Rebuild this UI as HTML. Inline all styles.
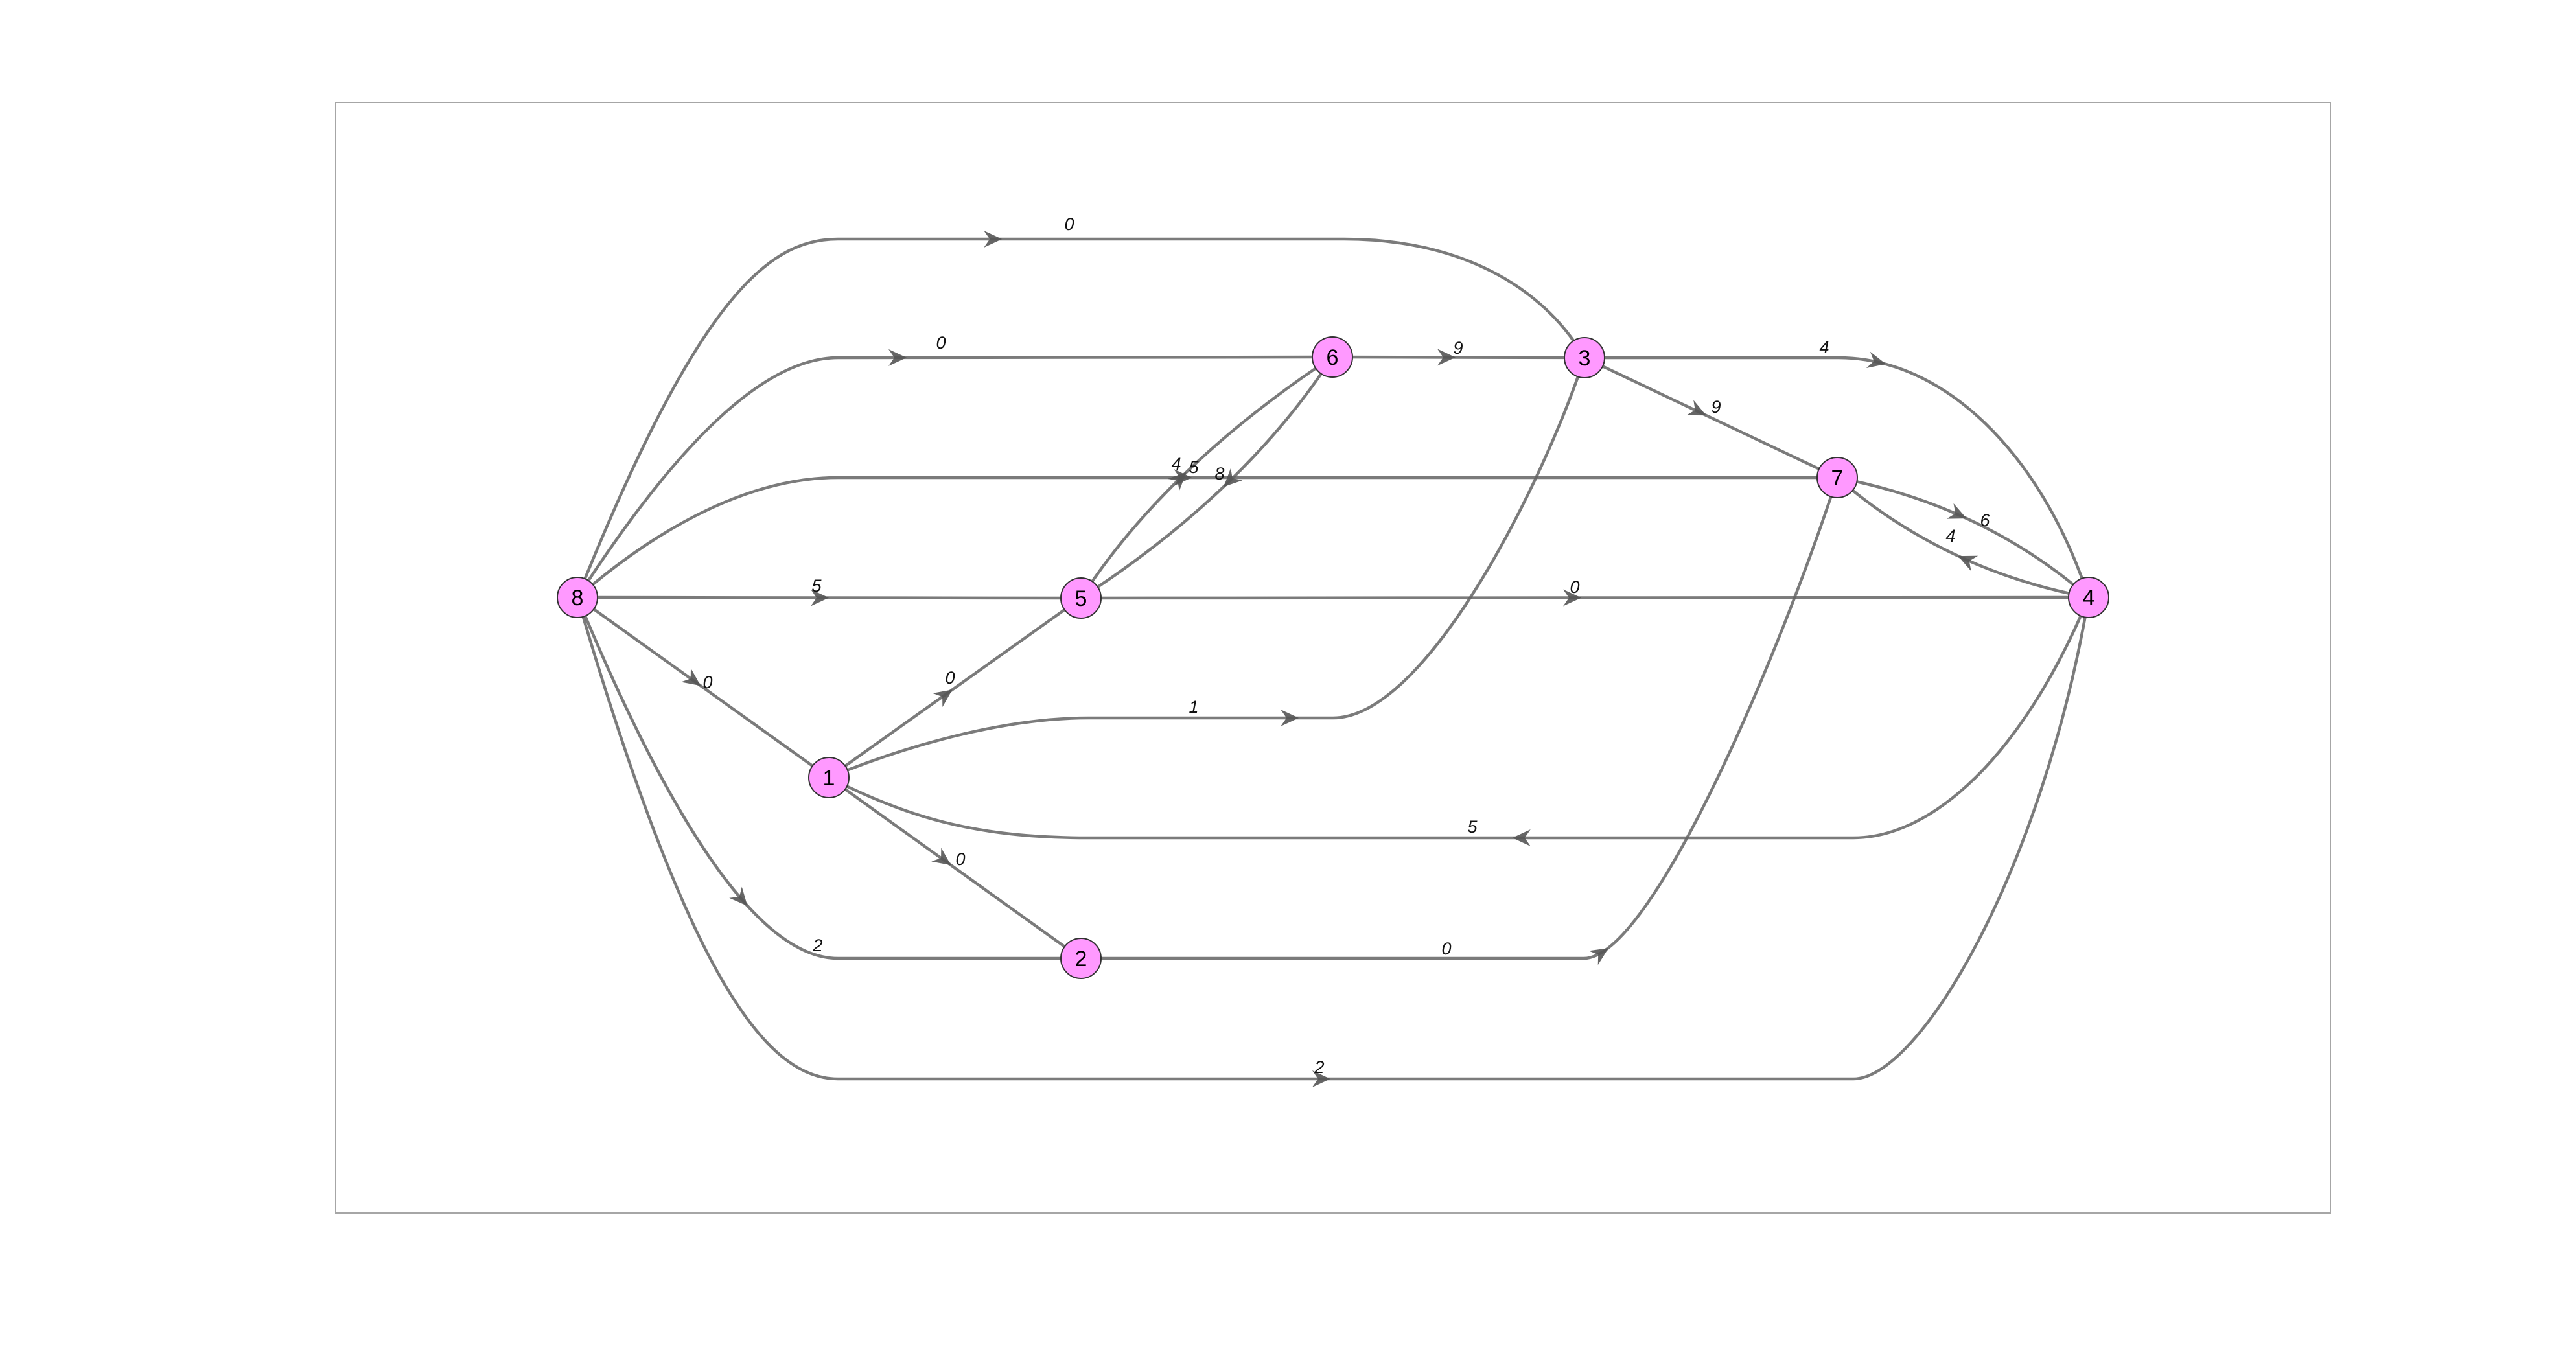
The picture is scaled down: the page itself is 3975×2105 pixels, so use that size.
<!DOCTYPE html>
<html><head><meta charset="utf-8"><style>
html,body{margin:0;padding:0;background:#fff;}
svg{display:block;}
</style></head><body>
<svg id="chart" width="3975" height="2105" viewBox="0 0 3975 2105" xmlns="http://www.w3.org/2000/svg">
<rect x="518" y="158" width="3078" height="1714" fill="#fff" stroke="#a6a6a6" stroke-width="2"/>
<g id="edges"></g><g id="arrows"></g><g id="elabels"></g><g id="nodes"></g>
</svg>
<script>
// graph data
const nodeNames = ['1','2','3','4','5','6','7','8'];
const edgeFrom = ['8','8','8','8','8','8','8','1','1','4','1','2','5','6','5','6','3','3','7','4'];
const edgeTo   = ['3','6','7','5','1','2','4','5','3','1','2','7','6','5','4','3','4','7','4','7'];
const edgeWeight = ['0','0','4','5','0','2','2','0','1','5','0','0','5','8','0','9','4','9','6','4'];

// layout (positions)
const P = {'8':[891,922],'1':[1279,1200],'5':[1668,923],'2':[1668,1479],'6':[2056,551],'3':[2445,552],'7':[2835,737],'4':[3223,922]};
function p(n){return P[n][0]+','+P[n][1];}
const routes = {
 '8-3':()=>`M${p('8')} C1080,450 1190,369 1293,369 L2074,369 C2250,369 2380,440 ${p('3')}`,
 '8-6':()=>`M${p('8')} C1060,660 1190,552 1293,552 L${p('6')}`,
 '8-7':()=>`M${p('8')} C1020,810 1160,737 1293,737 L${p('7')}`,
 '8-5':()=>`M${p('8')} L${p('5')}`,
 '8-1':()=>`M${p('8')} L${p('1')}`,
 '8-2':()=>`M${p('8')} C1060,1330 1190,1479 1293,1479 L${p('2')}`,
 '8-4':()=>`M${p('8')} C1060,1500 1180,1665 1293,1665 L2860,1665 C2960,1665 3150,1350 ${p('4')}`,
 '1-5':()=>`M${p('1')} L${p('5')}`,
 '1-3':()=>`M${p('1')} C1400,1150 1550,1108 1680,1108 L2057,1108 C2200,1108 2380,750 ${p('3')}`,
 '4-1':()=>`M${p('4')} C3120,1170 2980,1293 2860,1293 L1680,1293 C1500,1293 1400,1260 ${p('1')}`,
 '1-2':()=>`M${p('1')} L${p('2')}`,
 '2-7':()=>`M${p('2')} L2444,1479 C2550,1479 2750,1000 ${p('7')}`,
 '5-6':()=>`M${p('5')} Q1800,720 ${p('6')}`,
 '6-5':()=>`M${p('6')} Q1920,760 ${p('5')}`,
 '5-4':()=>`M${p('5')} L${p('4')}`,
 '6-3':()=>`M${p('6')} L${p('3')}`,
 '3-4':()=>`M${p('3')} L2837,552 C3000,552 3150,700 ${p('4')}`,
 '3-7':()=>`M${p('3')} L${p('7')}`,
 '7-4':()=>`M${p('7')} Q3060,780 ${p('4')}`,
 '4-7':()=>`M${p('4')} Q3000,880 ${p('7')}`
};
const arrowHint = {'8-3':[1537,369],'8-6':[1390,552],'8-7':[1830,737],'8-5':[1270,922],'8-1':[1074,1052],'8-2':[1143,1394],'8-4':[2042,1665],
 '1-5':[1459,1068],'1-3':[1995,1108],'4-1':[2344,1293],'1-2':[1459,1331],'2-7':[2475,1470],'5-6':[1823,736],'6-5':[1897,747],
 '5-4':[2430,922],'6-3':[2236,551],'3-4':[2900,562],'3-7':[2626,634],'7-4':[3023,804],'4-7':[3033,857]};
const labelPos = {'8-3':[1650,355],'8-6':[1452,538],'8-7':[1815,725],'8-5':[1260,913],'8-1':[1092,1062],'8-2':[1262,1468],'8-4':[2036,1656],
 '1-5':[1466,1055],'1-3':[1842,1100],'4-1':[2272,1285],'1-2':[1482,1335],'2-7':[2232,1473],'5-6':[1842,730],'6-5':[1882,740],
 '5-4':[2430,915],'6-3':[2250,546],'3-4':[2815,545],'3-7':[2648,637],'7-4':[3063,812],'4-7':[3010,836]};

const NS='http://www.w3.org/2000/svg';
const gE=document.getElementById('edges'),gA=document.getElementById('arrows'),gL=document.getElementById('elabels'),gN=document.getElementById('nodes');
for(let i=0;i<edgeFrom.length;i++){
  const key=edgeFrom[i]+'-'+edgeTo[i];
  const path=document.createElementNS(NS,'path');
  path.setAttribute('d',routes[key]());
  path.setAttribute('fill','none');
  path.setAttribute('stroke','rgba(100,100,100,0.85)');
  path.setAttribute('stroke-width','4.5');
  
  
  gE.appendChild(path);
  const L=path.getTotalLength();const h=arrowHint[key];
  let best=0,bd=1e18;
  for(let s=0;s<=L;s+=2){const q=path.getPointAtLength(s);const d=(q.x-h[0])**2+(q.y-h[1])**2;if(d<bd){bd=d;best=s;}}
  const a=path.getPointAtLength(best),b=path.getPointAtLength(Math.min(L,best+2)),c=path.getPointAtLength(Math.max(0,best-2));
  const ang=Math.atan2(b.y-c.y,b.x-c.x)*180/Math.PI;
  const ar=document.createElementNS(NS,'path');
  ar.setAttribute('d','M10,0 L-18,-13 L-9,0 L-18,13 Z');
  ar.setAttribute('fill','rgba(85,85,85,0.9)');
  ar.setAttribute('transform',`translate(${a.x},${a.y}) rotate(${ang})`);
  
  
  gA.appendChild(ar);
  const t=document.createElementNS(NS,'text');
  t.setAttribute('x',labelPos[key][0]);t.setAttribute('y',labelPos[key][1]);
  t.setAttribute('font-family','Liberation Sans, sans-serif');t.setAttribute('font-size','27');
  t.setAttribute('font-style','italic');t.setAttribute('text-anchor','middle');t.setAttribute('fill','#111');
  t.textContent=edgeWeight[i];
  
  
  gL.appendChild(t);
}
nodeNames.forEach(n=>{
  const c=document.createElementNS(NS,'circle');
  c.setAttribute('cx',P[n][0]);c.setAttribute('cy',P[n][1]);c.setAttribute('r','31');
  c.setAttribute('fill','#ff99ff');c.setAttribute('stroke','#333');c.setAttribute('stroke-width','2');
  
  
  gN.appendChild(c);
  const t=document.createElementNS(NS,'text');
  t.setAttribute('x',P[n][0]);t.setAttribute('y',P[n][1]+12);
  t.setAttribute('font-family','Liberation Sans, sans-serif');t.setAttribute('font-size','34');
  t.setAttribute('text-anchor','middle');t.setAttribute('fill','#000');
  t.textContent=n;
  
  
  gN.appendChild(t);
});
</script>
</body></html>
